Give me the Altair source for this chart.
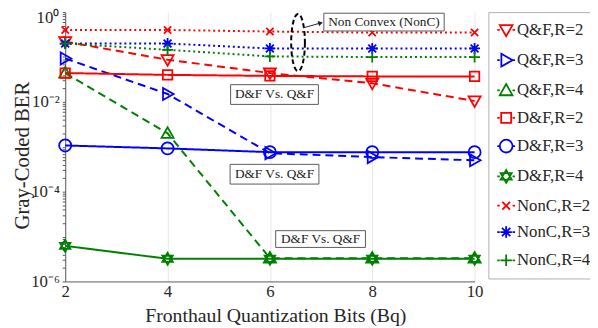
import altair as alt
import pandas as pd

# ---------------- data ----------------
x_bits = [2, 4, 6, 8, 10]
series_names = ["Q&F,R=2", "Q&F,R=3", "Q&F,R=4",
                "D&F,R=2", "D&F,R=3", "D&F,R=4",
                "NonC,R=2", "NonC,R=3", "NonC,R=4"]
qf_r2 = [0.22, 0.087, 0.044, 0.026, 0.0105]
qf_r3 = [0.093, 0.015, 7.2e-4, 5.9e-4, 5.0e-4]
qf_r4 = [0.044, 0.002, 3.3e-6, 3.3e-6, 3.3e-6]
df_r2 = [0.044, 0.040, 0.038, 0.037, 0.037]
df_r3 = [1.07e-3, 9.2e-4, 7.6e-4, 7.6e-4, 7.6e-4]
df_r4 = [6.2e-6, 3.2e-6, 3.2e-6, 3.2e-6, 3.2e-6]
nc_r2 = [0.40, 0.40, 0.37, 0.35, 0.35]
nc_r3 = [0.20, 0.20, 0.155, 0.155, 0.155]
nc_r4 = [0.20, 0.145, 0.103, 0.10, 0.10]
series_values = [qf_r2, qf_r3, qf_r4, df_r2, df_r3, df_r4, nc_r2, nc_r3, nc_r4]

y_tick_values = [1, 1e-2, 1e-4, 1e-6]
y_tick_labels = ["10⁰", "10⁻²", "10⁻⁴", "10⁻⁶"]
x_tick_values = [2, 4, 6, 8, 10]

ann_text = ["D&F Vs. Q&F", "D&F Vs. Q&F", "D&F Vs. Q&F", "Non Convex (NonC)"]
ann_x = [6.09, 6.09, 6.99, 8.23]
ann_y = [0.0146, 2.45e-4, 8.8e-6, 0.60]
ann_w = [89, 90, 91, 122]
ann_h = [20, 20, 17, 18]

ellipse_x = [6.55]
ellipse_y = [0.21]
arrow_x = [6.65]
arrow_y = [0.445]
arrow_x2 = [6.99]
arrow_y2 = [0.573]

# ---------------- styles ----------------
RED, BLUE, GREEN = "#ff0000", "#0000ff", "#008000"
series_colors = [RED, BLUE, GREEN] * 3
series_dash = [[8, 5]] * 3 + [[1, 0]] * 3 + [[2, 3]] * 3
FONT = "Liberation Serif"
TXT = "#262626"
AXC = "#5a5a5a"


def poly(pts, s, close=True):
    p = "M" + "L".join(f"{x*s:.3f},{y*s:.3f}" for x, y in pts)
    return p + ("Z" if close else "")


def marker(kind, s):
    if kind == "tdown":
        return poly([(-1, -0.75), (1, -0.75), (0, 1)], s)
    if kind == "tright":
        return poly([(-0.75, -1), (1, 0), (-0.75, 1)], s)
    if kind == "tup":
        return poly([(-1, 0.75), (1, 0.75), (0, -1)], s)
    if kind == "square":
        return poly([(-0.78, -0.78), (0.78, -0.78), (0.78, 0.78), (-0.78, 0.78)], s)
    if kind == "circle":
        return f"M{s},0A{s},{s} 0 1,1 {-s},0A{s},{s} 0 1,1 {s},0Z"
    if kind == "hexa":
        return (poly([(0, -1), (0.866, 0.5), (-0.866, 0.5)], s) +
                poly([(0, 1), (0.866, -0.5), (-0.866, -0.5)], s))
    if kind == "x":
        return (poly([(-0.6, -0.6), (0.6, 0.6)], s, False) +
                poly([(-0.6, 0.6), (0.6, -0.6)], s, False))
    if kind == "aster":
        return (poly([(0, -0.9), (0, 0.9)], s, False) + poly([(-0.9, 0), (0.9, 0)], s, False) +
                poly([(-0.65, -0.65), (0.65, 0.65)], s, False) +
                poly([(-0.65, 0.65), (0.65, -0.65)], s, False))
    if kind == "plus":
        return poly([(0, -0.9), (0, 0.9)], s, False) + poly([(-0.9, 0), (0.9, 0)], s, False)


kinds = ["tdown", "tright", "tup", "square", "circle", "hexa", "x", "aster", "plus"]
marker_paths = [marker(k, 1.0) for k in kinds]
legend_paths = [marker(k, 0.72) + "M-1,0L-0.72,0M0.72,0L1,0" for k in kinds]

rows = []
for name, vals in zip(series_names, series_values):
    for xb, v in zip(x_bits, vals):
        rows.append({"series": name, "lseries": name, "bits": xb, "ber": v})
df = pd.DataFrame(rows)

xs = alt.Scale(domain=[2, 10], nice=False)
ys = alt.Scale(type="log", domain=[1e-6, 1], nice=False)

minor_vals = [m * 10.0 ** k for k in range(-6, 0) for m in range(1, 10)] + [1.0]
# the top label (10^0) is drawn as a text mark so that it stays inside the page
expr = "''"
for v, lab in reversed(list(zip(y_tick_values[1:], y_tick_labels[1:]))):
    expr = f"(abs(datum.value-{v})<{v*1e-3}) ? '{lab}' : " + expr

x_enc = alt.X("bits:Q", scale=xs,
              axis=alt.Axis(values=x_tick_values, title="Fronthaul Quantization Bits (Bq)",
                            grid=True, gridColor="#e6e6e6", labelFlush=False,
                            ticks=False, labelPadding=2, labelFontSize=17,
                            titleFontSize=20, titleX=213, titleY=40.5,
                            titleBaseline="alphabetic", titleFontWeight="normal"))
y_enc = alt.Y("ber:Q", scale=ys,
              axis=alt.Axis(values=minor_vals, labelExpr=expr, title="Gray-Coded BER",
                            grid=False, labelFlush=False, labelOverlap=False,
                            tickSize=3, labelPadding=3, labelFontSize=17,
                            titleFontSize=21, titleX=-37, titleY=145,
                            titleBaseline="alphabetic", titleFontWeight="normal"))

color_scale = alt.Scale(domain=series_names, range=series_colors)

lines = alt.Chart(df).mark_line(strokeWidth=2).encode(
    x=x_enc, y=y_enc,
    color=alt.Color("series:N", scale=color_scale, legend=None),
    strokeDash=alt.StrokeDash("series:N", scale=alt.Scale(domain=series_names, range=series_dash), legend=None),
    detail="series:N",
)

points = alt.Chart(df).mark_point(filled=False, size=150, strokeWidth=1.8, opacity=1).encode(
    x="bits:Q", y="ber:Q",
    color=alt.Color("series:N", scale=color_scale, legend=None),
    shape=alt.Shape("series:N", scale=alt.Scale(domain=series_names, range=marker_paths), legend=None),
)

legend_layer = alt.Chart(df).mark_point(filled=False, size=150, strokeWidth=1.8, opacity=0).encode(
    x="bits:Q", y="ber:Q",
    color=alt.Color("lseries:N", scale=alt.Scale(domain=series_names, range=series_colors),
                    legend=alt.Legend(title=None)),
    shape=alt.Shape("lseries:N", scale=alt.Scale(domain=series_names, range=legend_paths),
                    legend=alt.Legend(title=None)),
)

top_lab_df = pd.DataFrame({"bits": [x_tick_values[0]], "ber": [y_tick_values[0]], "txt": [y_tick_labels[0]]})
top_label = alt.Chart(top_lab_df).mark_text(font=FONT, fontSize=17, color=TXT, align="right",
                                            baseline="top", dx=-6, dy=-2).encode(
    x="bits:Q", y="ber:Q", text="txt:N")

ann_layers = []
for t, ax, ay, w, h in zip(ann_text, ann_x, ann_y, ann_w, ann_h):
    d = pd.DataFrame({"bits": [ax], "ber": [ay], "txt": [t]})
    r = h / w
    box = alt.Chart(d).mark_point(shape=f"M-1,{-r:.4f}L1,{-r:.4f}L1,{r:.4f}L-1,{r:.4f}Z",
                                  size=w * w, filled=True, fill="white", stroke="#5a5a5a",
                                  strokeWidth=1, opacity=1).encode(x="bits:Q", y="ber:Q")
    txt = alt.Chart(d).mark_text(font=FONT, fontSize=13.5, color="#1a1a1a",
                                 align="center", baseline="middle").encode(
        x="bits:Q", y="ber:Q", text="txt:N")
    ann_layers += [box, txt]

ell_df = pd.DataFrame({"bits": ellipse_x, "ber": ellipse_y})
ellipse = alt.Chart(ell_df).mark_point(
    shape="M0.24,0A0.24,1 0 1,1 -0.24,0A0.24,1 0 1,1 0.24,0Z",
    size=58 * 58, filled=False, stroke="black", strokeWidth=2, strokeDash=[5, 3], opacity=1
).encode(x="bits:Q", y="ber:Q")

arr_df = pd.DataFrame({"bits": arrow_x, "ber": arrow_y, "bits2": arrow_x2, "ber2": arrow_y2})
arrow = alt.Chart(arr_df).mark_rule(color="#222", strokeWidth=1).encode(
    x="bits:Q", y="ber:Q", x2="bits2:Q", y2="ber2:Q")
head = alt.Chart(arr_df).mark_point(shape="triangle-right", size=30, filled=True,
                                    color="#222", angle=345, opacity=1).encode(
    x="bits2:Q", y="ber2:Q")

chart = alt.layer(lines, points, *ann_layers, ellipse, arrow, head, top_label, legend_layer).resolve_scale(
    color="independent", shape="independent", strokeDash="independent"
).properties(
    width=415, height=273, autosize="none",
    padding={"left": 58, "top": 2, "right": 117, "bottom": 45},
).configure_view(stroke=None).configure_axis(
    labelFont=FONT, titleFont=FONT, labelColor=TXT, titleColor=TXT,
    domainColor=AXC, tickColor=AXC, domainWidth=1,
).configure_legend(
    orient="none", legendX=429, legendY=0, padding=8, rowPadding=8.7,
    symbolSize=324, symbolStrokeWidth=1.8, symbolOpacity=1,
    labelFont=FONT, labelFontSize=17, labelColor=TXT, labelOffset=1, labelLimit=200,
    strokeColor="#b0b0b0", fillColor="white", symbolFillColor="transparent",
)

chart.save("out.html", embed_options={"renderer": "svg", "actions": False})
